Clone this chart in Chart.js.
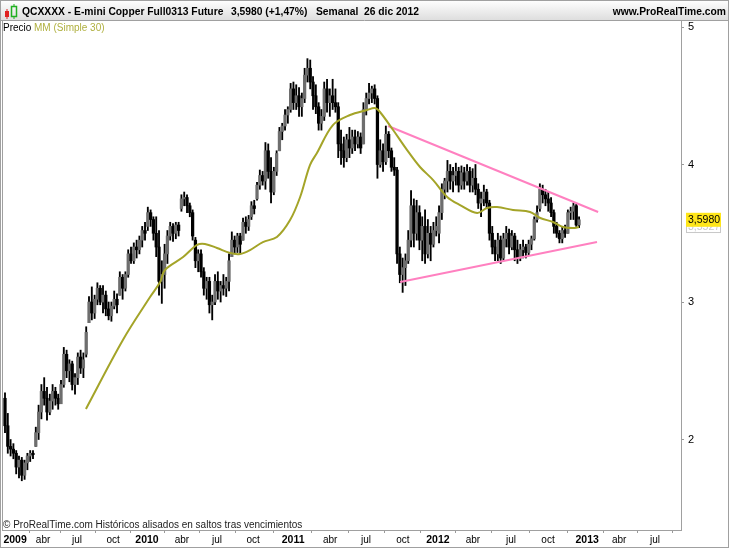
<!DOCTYPE html>
<html><head><meta charset="utf-8">
<script src="https://cdn.jsdelivr.net/npm/chart.js@4"></script>
<style>html,body{margin:0;padding:0;background:#fff;overflow:hidden}canvas{display:block}</style>
</head><body>
<canvas id="c" width="731" height="549"></canvas>
<script>
// Weekly bars, week index 0 = first week of Jan 2009 ... 205 = 26 dic 2012
const opens = [
2.30,2.10,1.95,1.93,1.90,1.80,1.85,1.74,1.83,1.88,
1.90,1.95,2.05,2.20,2.35,2.30,2.20,2.28,2.35,2.30,
2.26,2.40,2.62,2.50,2.55,2.40,2.45,2.60,2.52,2.62,
2.85,3.00,2.92,3.02,3.10,3.00,3.05,2.95,2.90,2.97,
3.02,3.05,3.18,3.10,3.20,3.35,3.30,3.40,3.38,3.45,
3.52,3.55,3.65,3.60,3.50,3.40,3.15,3.20,3.35,3.48,
3.55,3.50,3.56,3.68,3.75,3.76,3.70,3.65,3.45,3.30,
3.35,3.22,3.10,3.15,2.98,3.00,3.15,3.08,3.12,3.10,
3.15,3.33,3.45,3.40,3.48,3.45,3.58,3.55,3.62,3.70,
3.75,3.85,3.92,3.88,4.10,3.95,3.80,3.95,4.10,4.24,
4.28,4.36,4.40,4.55,4.45,4.50,4.42,4.48,4.65,4.70,
4.60,4.50,4.42,4.30,4.35,4.55,4.45,4.50,4.45,4.42,
4.15,4.10,4.05,4.18,4.12,4.20,4.15,4.20,4.15,4.40,
4.48,4.52,4.55,4.48,4.00,4.10,4.02,4.22,4.10,3.98,
3.96,3.35,3.20,3.25,3.30,3.45,3.70,3.50,3.65,3.45,
3.55,3.35,3.50,3.42,3.52,3.50,3.65,3.82,3.88,3.95,
3.88,3.92,3.95,3.85,3.94,3.88,3.95,3.85,3.90,3.82,
3.72,3.75,3.80,3.72,3.50,3.40,3.35,3.45,3.32,3.46,
3.50,3.40,3.48,3.38,3.32,3.38,3.40,3.36,3.42,3.46,
3.60,3.68,3.82,3.78,3.75,3.72,3.65,3.55,3.50,3.46,
3.52,3.50,3.65,3.66,3.70,3.56];
const highs = [
2.34,2.19,2.00,1.97,1.92,1.88,1.87,1.85,1.90,1.92,
1.92,2.09,2.25,2.40,2.45,2.38,2.33,2.40,2.38,2.33,
2.43,2.67,2.65,2.58,2.57,2.48,2.63,2.65,2.63,2.82,
3.04,3.11,3.05,3.14,3.12,3.12,3.08,3.00,3.00,3.08,
3.06,3.22,3.20,3.22,3.38,3.40,3.43,3.45,3.48,3.55,
3.58,3.69,3.67,3.62,3.62,3.52,3.30,3.42,3.52,3.58,
3.57,3.58,3.58,3.78,3.80,3.78,3.72,3.67,3.47,3.38,
3.38,3.25,3.18,3.18,3.05,3.20,3.22,3.15,3.20,3.18,
3.35,3.51,3.48,3.50,3.50,3.61,3.62,3.63,3.73,3.74,
3.87,3.96,3.95,4.16,4.15,4.05,3.98,4.10,4.27,4.30,
4.40,4.42,4.59,4.60,4.58,4.56,4.52,4.70,4.77,4.76,
4.64,4.58,4.45,4.40,4.60,4.62,4.55,4.62,4.55,4.45,
4.25,4.20,4.22,4.27,4.25,4.25,4.24,4.23,4.45,4.52,
4.59,4.57,4.58,4.50,4.18,4.15,4.28,4.24,4.12,4.05,
3.98,3.40,3.32,3.35,3.52,3.81,3.75,3.74,3.70,3.62,
3.67,3.60,3.55,3.58,3.62,3.70,3.86,3.90,4.03,4.00,
3.98,4.01,3.98,3.99,3.98,4.00,3.98,3.97,4.00,3.86,
3.80,3.85,3.82,3.74,3.55,3.45,3.50,3.48,3.50,3.55,
3.53,3.52,3.50,3.45,3.42,3.45,3.42,3.45,3.48,3.62,
3.70,3.86,3.85,3.82,3.80,3.76,3.67,3.58,3.52,3.55,
3.56,3.67,3.69,3.72,3.71,3.62];
const lows = [
2.05,1.90,1.88,1.86,1.75,1.72,1.70,1.71,1.78,1.84,
1.86,1.95,2.00,2.15,2.25,2.14,2.18,2.22,2.25,2.22,
2.26,2.38,2.45,2.42,2.36,2.33,2.40,2.48,2.45,2.60,
2.85,2.87,2.88,2.98,2.98,2.92,2.90,2.87,2.86,2.95,
2.92,3.05,3.02,3.08,3.18,3.28,3.28,3.32,3.35,3.40,
3.45,3.52,3.55,3.45,3.33,3.05,2.99,3.10,3.28,3.45,
3.44,3.46,3.48,3.66,3.70,3.65,3.62,3.45,3.25,3.22,
3.18,3.05,3.02,2.92,2.87,2.98,3.02,3.00,3.05,3.04,
3.08,3.33,3.35,3.36,3.35,3.45,3.50,3.52,3.60,3.64,
3.74,3.82,3.85,3.82,3.90,3.72,3.78,3.92,4.10,4.18,
4.25,4.30,4.38,4.40,4.40,4.35,4.35,4.45,4.60,4.55,
4.40,4.37,4.25,4.25,4.32,4.38,4.35,4.40,4.38,4.05,
4.00,3.98,4.02,4.05,4.08,4.10,4.12,4.08,4.15,4.36,
4.44,4.45,4.44,3.90,3.98,3.95,4.00,4.05,3.95,3.92,
3.28,3.14,3.07,3.12,3.28,3.40,3.40,3.45,3.38,3.30,
3.28,3.32,3.30,3.40,3.48,3.43,3.60,3.75,3.80,3.82,
3.80,3.85,3.80,3.82,3.82,3.85,3.80,3.80,3.78,3.68,
3.62,3.70,3.68,3.45,3.35,3.30,3.30,3.28,3.30,3.40,
3.35,3.38,3.30,3.28,3.30,3.32,3.32,3.34,3.38,3.45,
3.58,3.66,3.72,3.70,3.66,3.62,3.50,3.47,3.43,3.43,
3.47,3.50,3.60,3.60,3.55,3.54];
const closes = [
2.10,1.95,1.93,1.90,1.80,1.85,1.74,1.83,1.88,1.90,
1.89,2.05,2.20,2.35,2.30,2.20,2.28,2.35,2.30,2.26,
2.40,2.62,2.50,2.55,2.40,2.45,2.60,2.52,2.58,2.78,
3.00,2.92,3.02,3.10,3.00,3.05,2.95,2.90,2.97,3.02,
2.98,3.18,3.10,3.20,3.35,3.30,3.40,3.38,3.45,3.52,
3.50,3.65,3.60,3.50,3.40,3.15,3.20,3.35,3.48,3.55,
3.50,3.56,3.52,3.75,3.76,3.70,3.65,3.48,3.30,3.35,
3.22,3.10,3.15,2.98,3.00,3.15,3.08,3.12,3.10,3.15,
3.30,3.45,3.40,3.48,3.42,3.58,3.55,3.60,3.70,3.68,
3.85,3.92,3.88,4.10,3.95,3.80,3.95,4.08,4.24,4.28,
4.36,4.40,4.55,4.45,4.50,4.42,4.48,4.65,4.70,4.60,
4.50,4.42,4.30,4.35,4.55,4.45,4.50,4.45,4.42,4.15,
4.10,4.05,4.18,4.12,4.20,4.15,4.20,4.12,4.40,4.48,
4.52,4.55,4.48,4.00,4.10,4.02,4.22,4.10,3.98,3.96,
3.35,3.20,3.25,3.30,3.45,3.70,3.50,3.65,3.45,3.55,
3.35,3.50,3.42,3.52,3.55,3.65,3.82,3.88,3.95,3.88,
3.92,3.95,3.85,3.94,3.88,3.95,3.85,3.90,3.82,3.72,
3.75,3.80,3.72,3.50,3.40,3.35,3.45,3.32,3.46,3.50,
3.40,3.48,3.38,3.32,3.38,3.40,3.36,3.42,3.46,3.60,
3.65,3.82,3.78,3.75,3.72,3.65,3.55,3.50,3.46,3.52,
3.50,3.65,3.66,3.70,3.56,3.598];

// MM (Simple 30) (week index, value)
const maWeeks  = [28.9,42.1,51.8,55.4,57.1,63.6,68.6,71.4,75.7,80.4,83.9,87.5,92.1,97.1,101.8,105.4,108.9,111.4,117.1,123.2,129.3,132.1,133.9,138.6,143.6,148.2,152.9,157.9,162.5,168.6,172.1,175.7,181.4,187.5,191.1,195.7,199.3,202.9,205];
const maValues = [2.222,2.724,3.036,3.145,3.233,3.327,3.415,3.422,3.393,3.356,3.349,3.378,3.436,3.473,3.596,3.764,3.996,4.084,4.287,4.360,4.396,4.411,4.382,4.251,4.105,3.982,3.887,3.764,3.705,3.647,3.684,3.691,3.669,3.655,3.611,3.582,3.545,3.538,3.545];

// Trend lines (pink)
const upperWeeks = [136.8, 211.8], upperValues = [4.28, 3.655];
const lowerWeeks = [141.1, 211.4], lowerValues = [3.145, 3.436];

// Axes
const xTickWeeks  = [3.6,13.6,25.7,38.6,50.7,63.2,75.7,88.6,102.9,116.1,128.9,142.1,154.6,167.1,180.7,193.9,207.9,219.3,232.1];
const xTickLabels = ['2009','abr','jul','oct','2010','abr','jul','oct','2011','abr','jul','oct','2012','abr','jul','oct','2013','abr','jul'];
const yTicks = [2,3,4,5];
const maLast = 3.5527;

const FONT = '"Liberation Sans", Arial, sans-serif';
const fmt = v => v.toFixed(4).replace('.', ',');

const wickData = highs.map((h,i)=>({x:i, y:[lows[i], h]}));
const bodyData = opens.map((o,i)=>({x:i, y:[o, closes[i]]}));
const bodyColors = opens.map((o,i)=> closes[i] >= o ? '#6e6e6e' : '#000000');
const maData = maWeeks.map((w,i)=>({x:w, y:maValues[i]}));
const upData = upperWeeks.map((w,i)=>({x:w, y:upperValues[i]}));
const loData = lowerWeeks.map((w,i)=>({x:w, y:lowerValues[i]}));

const chrome = {
  id: 'chrome',
  beforeDraw(chart){
    const c = chart.ctx; c.save(); c.fillStyle = '#fff'; c.fillRect(0,0,chart.width,chart.height); c.restore();
  },
  afterDraw(chart){
    const c = chart.ctx, a = chart.chartArea;
    c.save();
    const g = c.createLinearGradient(0,0,0,20);
    g.addColorStop(0,'#ffffff'); g.addColorStop(1,'#dedede');
    c.fillStyle = g; c.fillRect(1,1,727,19);
    c.strokeStyle = '#a0a0a0'; c.lineWidth = 1;
    c.beginPath(); c.moveTo(1,20.5); c.lineTo(728,20.5); c.stroke();
    c.strokeRect(0.5,0.5,728,547);
    c.beginPath(); c.moveTo(a.left+0.5, a.top); c.lineTo(a.left+0.5, a.bottom); c.stroke();
    // icon
    c.fillStyle = '#e02020'; c.fillRect(5,11,4,6); c.fillRect(6.5,9,1,10);
    c.strokeStyle = '#20b020'; c.lineWidth = 1.5; c.strokeRect(11.5,6.5,5,10);
    c.fillStyle = '#20b020'; c.fillRect(13.5,4,1,2); c.fillRect(13.5,17,1,2);
    // header text
    c.fillStyle = '#000'; c.textBaseline = 'alphabetic';
    c.font = 'bold 10.3px ' + FONT;
    c.fillText('QCXXXX - E-mini Copper Full0313 Future', 22, 15);
    c.fillText(fmt(closes[closes.length-1]) + ' (+1,47%)', 231, 15);
    c.fillText('Semanal', 316, 15);
    c.fillText('26 dic 2012', 364, 15);
    c.textAlign = 'right';
    c.fillText('www.ProRealTime.com', 726, 15);
    c.textAlign = 'left';
    c.font = '10px ' + FONT;
    c.fillText('Precio', 3, 31);
    c.fillStyle = '#b0b040';
    c.fillText('MM (Simple 30)', 34, 31);
    c.fillStyle = '#222';
    c.fillText('\u00A9 ProRealTime.com Hist\u00F3ricos alisados en saltos tras vencimientos', 3, 528);
    // price labels on axis
    const ys = chart.scales.y;
    const yMa = ys.getPixelForValue(maLast);
    c.fillStyle = '#fff'; c.fillRect(686, yMa-7, 35, 14);
    c.strokeStyle = '#c8c8c8'; c.lineWidth = 1; c.strokeRect(686.5, yMa-6.5, 34, 13);
    c.font = '10.5px ' + FONT;
    c.fillStyle = '#c8c8c8'; c.textBaseline = 'middle'; c.fillText(fmt(maLast), 688, yMa+1);
    const yP = ys.getPixelForValue(closes[closes.length-1]);
    c.fillStyle = '#ffe619'; c.fillRect(686, yP-7, 35, 14);
    c.fillStyle = '#000'; c.fillText(fmt(closes[closes.length-1]), 688, yP+0.5);
    c.restore();
  }
};

new Chart(document.getElementById('c'), {
  type: 'bar',
  data: {
    datasets: [
      { type:'line', data: maData, borderColor:'#a4a428', borderWidth:2, pointRadius:0, tension:0.35, order:0 },
      { type:'line', data: upData, borderColor:'#ff80c0', borderWidth:2, pointRadius:0, order:1 },
      { type:'line', data: loData, borderColor:'#ff80c0', borderWidth:2, pointRadius:0, order:1 },
      { type:'bar', data: bodyData, backgroundColor: bodyColors, barThickness:2.6, grouped:false, order:2 },
      { type:'bar', data: wickData, backgroundColor:'#000', barThickness:1.2, grouped:false, order:3 }
    ]
  },
  options: {
    responsive:false, animation:false, devicePixelRatio:1,
    layout: { padding: { left:2, right:3, top:20, bottom:2 } },
    plugins: { legend:{display:false}, tooltip:{enabled:false} },
    scales: {
      x: {
        type:'linear', offset:false, min:-1.07, max:241.4,
        afterBuildTicks: axis => { axis.ticks = xTickWeeks.map(v=>({value:v})); },
        afterFit: s => { s.height = 17; },
        ticks: {
          autoSkip:false, maxRotation:0, padding:1, color:'#000',
          callback: (v,i) => xTickLabels[i],
          font: ctx => (/^\d{4}$/.test(xTickLabels[ctx.index]||'') ? {family:FONT, size:10.5, weight:'bold'} : {family:FONT, size:10})
        },
        grid: { drawOnChartArea:false, drawTicks:true, tickLength:3, color:'#9a9a9a' },
        border: { display:true, color:'#a0a0a0' }
      },
      y: {
        position:'right', min:1.342, max:5.051,
        afterBuildTicks: axis => { axis.ticks = yTicks.map(v=>({value:v})); },
        afterFit: s => { s.width = 47; },
        ticks: { padding:4, color:'#000', font:{family:FONT, size:11}, callback: v => String(v) },
        grid: { drawOnChartArea:false, drawTicks:true, tickLength:3, color:'#9a9a9a' },
        border: { display:true, color:'#a0a0a0' }
      }
    }
  },
  plugins: [chrome]
});
</script>
</body></html>
